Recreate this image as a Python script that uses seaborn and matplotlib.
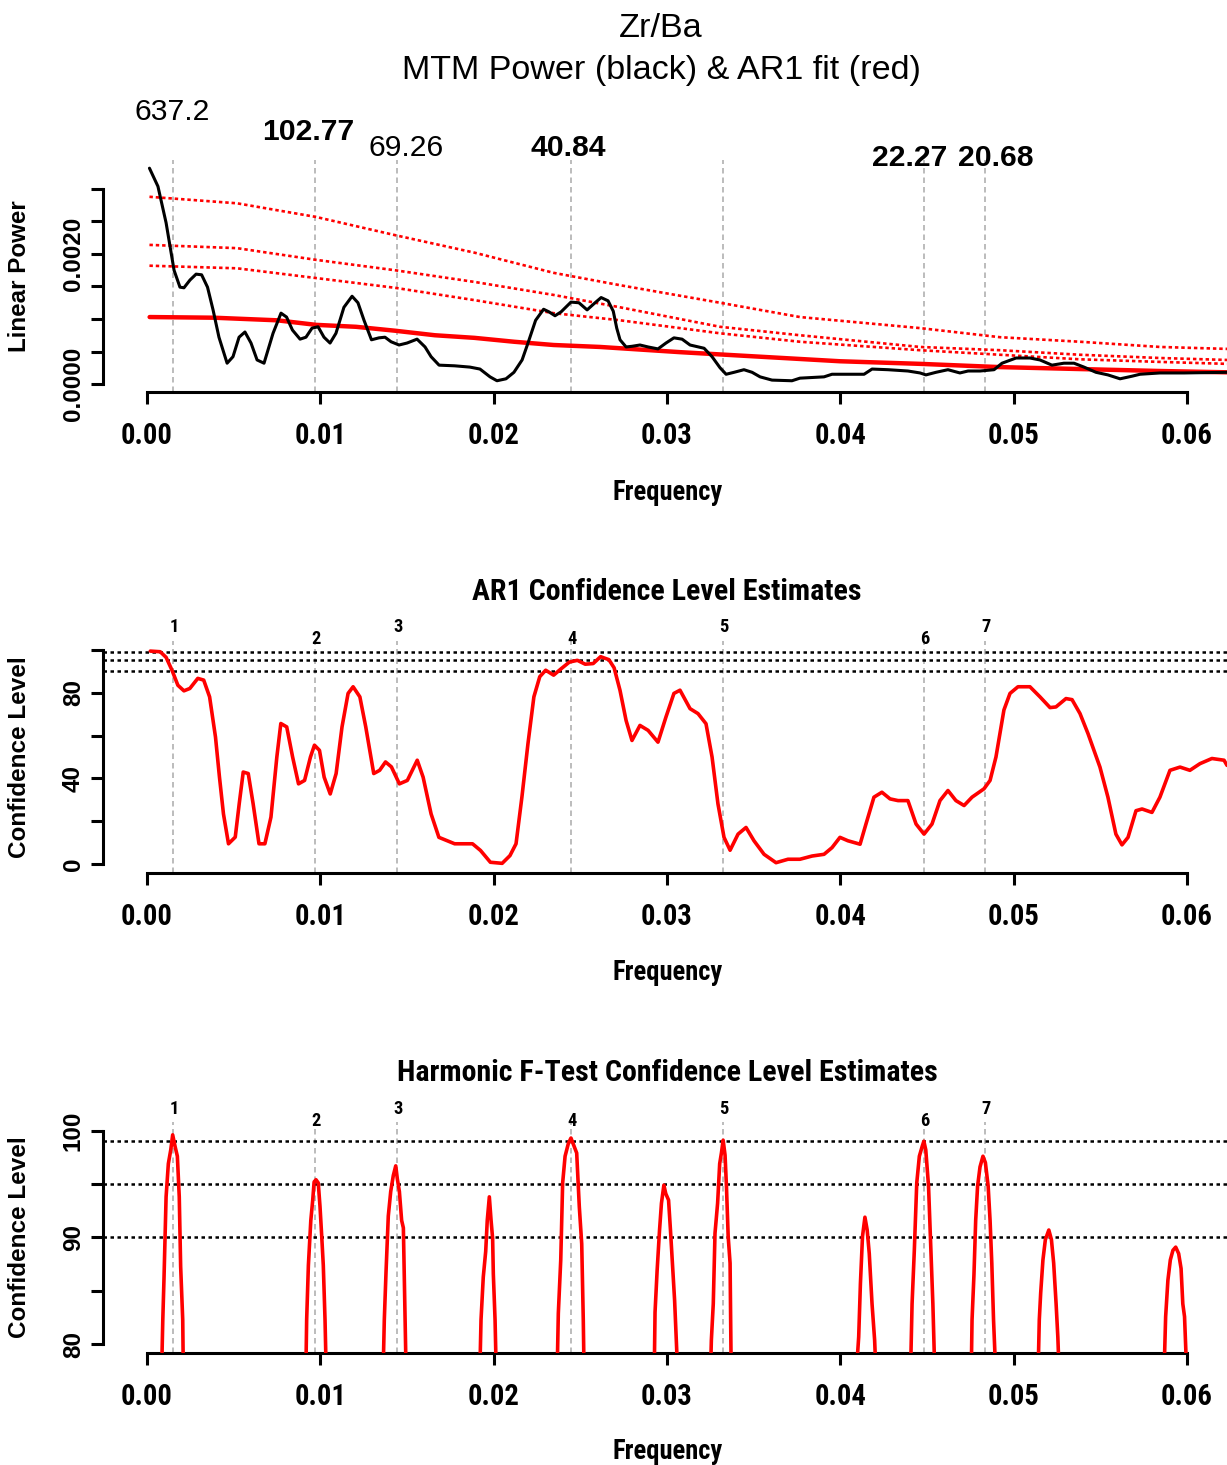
import numpy as np
import pandas as pd
import seaborn as sns
import matplotlib
matplotlib.use("Agg")
import matplotlib.pyplot as plt
from matplotlib import font_manager as fm
from matplotlib.font_manager import FontProperties

# ---------------------------------------------------------------- data
# MTM power spectrum (black)
mtm_freq = [0.00014, 0.00063, 0.00110, 0.00156, 0.00190, 0.00213, 0.00248, 0.00283,
            0.00315, 0.00349, 0.00381, 0.00415, 0.00462, 0.00496, 0.00531, 0.00565,
            0.00600, 0.00635, 0.00675, 0.00727, 0.00773, 0.00805, 0.00839, 0.00883,
            0.00917, 0.00952, 0.00987, 0.01021, 0.01056, 0.01090, 0.01136, 0.01183,
            0.01217, 0.01252, 0.01295, 0.01338, 0.01373, 0.01408, 0.01454, 0.01500,
            0.01558, 0.01604, 0.01639, 0.01685, 0.01774, 0.01863, 0.01921, 0.01979,
            0.02019, 0.02071, 0.02117, 0.02164, 0.02198, 0.02242, 0.02288, 0.02319,
            0.02354, 0.02389, 0.02446, 0.02492, 0.02539, 0.02585, 0.02620, 0.02660,
            0.02690, 0.02710, 0.02729, 0.02764, 0.02798, 0.02844, 0.02891, 0.02948,
            0.02994, 0.03040, 0.03087, 0.03133, 0.03214, 0.03260, 0.03306, 0.03341,
            0.03387, 0.03444, 0.03491, 0.03537, 0.03606, 0.03721, 0.03767, 0.03906,
            0.03952, 0.04137, 0.04183, 0.04275, 0.04390, 0.04460, 0.04494, 0.04552,
            0.04621, 0.04690, 0.04737, 0.04806, 0.04887, 0.04933, 0.05014, 0.05094,
            0.05152, 0.05221, 0.05290, 0.05348, 0.05406, 0.05475, 0.05544, 0.05614,
            0.05683, 0.05729, 0.05844, 0.05983, 0.06231]
mtm_power = [0.00332, 0.00304, 0.00248, 0.00175, 0.00149, 0.00148, 0.00160, 0.00169,
             0.00168, 0.00149, 0.00114, 0.00072, 0.00032, 0.00042, 0.00072, 0.00080,
             0.00063, 0.00037, 0.00032, 0.00078, 0.00109, 0.00103, 0.00083, 0.00069,
             0.00072, 0.00086, 0.00088, 0.00072, 0.00063, 0.00078, 0.00118, 0.00135,
             0.00125, 0.00098, 0.00068, 0.00071, 0.00072, 0.00065, 0.00060, 0.00063,
             0.00069, 0.00057, 0.00042, 0.00029, 0.00028, 0.00026, 0.00023, 0.00011,
             0.00005, 0.00008, 0.00018, 0.00037, 0.00063, 0.00098, 0.00115, 0.00111,
             0.00105, 0.00111, 0.00126, 0.00125, 0.00114, 0.00125, 0.00133, 0.00128,
             0.00112, 0.00086, 0.00068, 0.00057, 0.00058, 0.00060, 0.00057, 0.00054,
             0.00063, 0.00071, 0.00069, 0.00060, 0.00055, 0.00042, 0.00025, 0.00015,
             0.00018, 0.00022, 0.00018, 0.00011, 0.00006, 0.00005, 0.00009, 0.00011,
             0.00015, 0.00015, 0.00023, 0.00022, 0.00020, 0.00017, 0.00014, 0.00018,
             0.00022, 0.00017, 0.00020, 0.00020, 0.00022, 0.00032, 0.00040, 0.00040,
             0.00037, 0.00029, 0.00032, 0.00032, 0.00026, 0.00018, 0.00014, 0.00008,
             0.00012, 0.00015, 0.00017, 0.00017, 0.00018]

# AR1 fit (red, solid)
ar1_freq = [0.00015, 0.00384, 0.00750, 0.00975, 0.01206, 0.01430, 0.01661, 0.01889,
            0.02118, 0.02346, 0.02614, 0.03075, 0.03537, 0.03998, 0.04460, 0.04921,
            0.05383, 0.05844, 0.06231]
ar1_power = [0.00103, 0.00102, 0.00098, 0.00091, 0.00088, 0.00082, 0.00075, 0.00071,
             0.00065, 0.00060, 0.00057, 0.00049, 0.00042, 0.00035, 0.00031, 0.00026,
             0.00023, 0.00020, 0.00018]

# AR1 confidence levels (red, dotted)
conf_freq = [0.00014, 0.00519, 0.00975, 0.01431, 0.01890, 0.02346, 0.02729, 0.03306,
             0.03767, 0.04460, 0.04921, 0.05383, 0.05844, 0.06231]
conf99_power = [0.00288, 0.00278, 0.00257, 0.00229, 0.00202, 0.00171, 0.00152, 0.00125,
                0.00103, 0.00086, 0.00072, 0.00065, 0.00057, 0.00054]
conf95_power = [0.00214, 0.00209, 0.00191, 0.00175, 0.00157, 0.00137, 0.00118, 0.00088,
                0.00075, 0.00057, 0.00052, 0.00045, 0.00040, 0.00037]
conf90_power = [0.00182, 0.00178, 0.00163, 0.00148, 0.00129, 0.00109, 0.00098, 0.00078,
                0.00065, 0.00052, 0.00045, 0.00038, 0.00034, 0.00031]

# identified peaks
peak_freq = [0.00150, 0.00969, 0.01444, 0.02446, 0.03322, 0.04484, 0.04836]
period_labels = ["637.2", "102.77", "69.26", "40.84", "", "22.27", "20.68"]
period_bold = [False, True, False, True, False, True, True]
peak_numbers = ["1", "2", "3", "4", "5", "6", "7"]

# AR1 confidence level estimates (%)
ar1cl_freq = [0.00019, 0.00076, 0.00110, 0.00144, 0.00178, 0.00213, 0.00247, 0.00293,
              0.00327, 0.00361, 0.00395, 0.00418, 0.00441, 0.00470, 0.00509, 0.00532,
              0.00555, 0.00584, 0.00612, 0.00646, 0.00680, 0.00715, 0.00749, 0.00772,
              0.00806, 0.00840, 0.00874, 0.00909, 0.00943, 0.00966, 0.00995, 0.01022,
              0.01057, 0.01091, 0.01125, 0.01160, 0.01189, 0.01228, 0.01262, 0.01308,
              0.01342, 0.01376, 0.01410, 0.01456, 0.01502, 0.01559, 0.01593, 0.01639,
              0.01684, 0.01775, 0.01878, 0.01924, 0.01981, 0.02049, 0.02094, 0.02129,
              0.02163, 0.02198, 0.02232, 0.02266, 0.02300, 0.02346, 0.02391, 0.02437,
              0.02483, 0.02528, 0.02574, 0.02617, 0.02665, 0.02695, 0.02729, 0.02764,
              0.02798, 0.02844, 0.02891, 0.02948, 0.02994, 0.03040, 0.03075, 0.03133,
              0.03179, 0.03225, 0.03260, 0.03294, 0.03329, 0.03364, 0.03410, 0.03456,
              0.03502, 0.03560, 0.03629, 0.03698, 0.03767, 0.03837, 0.03906, 0.03952,
              0.03998, 0.04044, 0.04114, 0.04148, 0.04194, 0.04240, 0.04287, 0.04333,
              0.04390, 0.04437, 0.04483, 0.04529, 0.04575, 0.04621, 0.04667, 0.04714,
              0.04760, 0.04829, 0.04864, 0.04898, 0.04944, 0.04979, 0.05025, 0.05094,
              0.05152, 0.05210, 0.05244, 0.05302, 0.05337, 0.05383, 0.05429, 0.05498,
              0.05544, 0.05590, 0.05625, 0.05660, 0.05706, 0.05741, 0.05798, 0.05844,
              0.05902, 0.05960, 0.06017, 0.06075, 0.06144, 0.06214, 0.06231]
ar1cl_level = [99.3, 99.0, 96.4, 90.4, 83.4, 80.8, 81.9, 86.6,
               85.8, 78.0, 59.3, 40.6, 23.5, 9.6, 12.7, 28.3,
               43.0, 42.3, 28.3, 9.6, 9.6, 22.0, 50.0, 65.6,
               64.0, 50.0, 37.5, 39.1, 50.0, 55.5, 53.1, 40.6,
               32.8, 42.3, 64.0, 79.6, 82.7, 78.0, 64.0, 42.3,
               43.8, 47.7, 45.4, 37.5, 39.1, 48.5, 40.6, 23.5,
               12.6, 9.6, 9.6, 6.5, 1.0, 0.5, 4.1, 9.6,
               31.4, 56.3, 78.0, 87.4, 90.4, 88.1, 91.2, 94.2,
               95.0, 93.2, 93.5, 96.7, 95.3, 91.5, 81.0, 67.0,
               57.7, 64.7, 62.4, 56.9, 68.6, 79.6, 81.1, 72.5,
               70.2, 65.5, 50.0, 28.2, 12.6, 6.6, 14.1, 17.2,
               11.0, 4.7, 0.8, 2.4, 2.4, 3.9, 4.7, 7.8,
               12.6, 11.0, 9.4, 18.8, 31.3, 33.6, 30.5, 29.7,
               29.7, 18.8, 14.1, 18.8, 29.7, 34.4, 29.7, 27.4,
               31.3, 35.2, 39.1, 50.0, 71.9, 79.6, 82.7, 82.7,
               78.0, 73.0, 73.3, 77.2, 76.7, 70.2, 60.9, 45.3,
               31.3, 14.1, 9.1, 12.6, 25.0, 25.8, 24.2, 31.3,
               43.8, 45.3, 43.8, 46.9, 49.3, 48.5, 46.1]

# Harmonic F-test confidence level estimates (%), only the parts above ~80 are visible
ftest_freq = [
    0.00085, 0.00091, 0.00098, 0.00110, 0.00123, 0.00137, 0.00148, 0.00162, 0.00175, 0.00186, 0.00194, 0.00206, 0.00209,
    0.00917, 0.00921, 0.00931, 0.00945, 0.00956, 0.00964, 0.00975, 0.00988, 0.00998, 0.01008, 0.01017, 0.01027, 0.01033,
    0.01363, 0.01369, 0.01379, 0.01392, 0.01406, 0.01421, 0.01435, 0.01444, 0.01456, 0.01469, 0.01479, 0.01489, 0.01494,
    0.01921, 0.01927, 0.01940, 0.01954, 0.01963, 0.01975, 0.01985, 0.01994, 0.01998, 0.02008, 0.02014,
    0.02367, 0.02373, 0.02387, 0.02398, 0.02412, 0.02431, 0.02446, 0.02460, 0.02479, 0.02494, 0.02508, 0.02517, 0.02521,
    0.02927, 0.02931, 0.02943, 0.02957, 0.02968, 0.02982, 0.02993, 0.03009, 0.03020, 0.03034, 0.03044, 0.03054, 0.03060,
    0.03252, 0.03256, 0.03267, 0.03277, 0.03292, 0.03304, 0.03314, 0.03324, 0.03335, 0.03343, 0.03353, 0.03364, 0.03370,
    0.04095, 0.04106, 0.04116, 0.04128, 0.04142, 0.04155, 0.04167, 0.04183, 0.04198, 0.04204,
    0.04406, 0.04414, 0.04427, 0.04441, 0.04456, 0.04472, 0.04482, 0.04493, 0.04509, 0.04524, 0.04534, 0.04544,
    0.04756, 0.04760, 0.04771, 0.04781, 0.04792, 0.04806, 0.04823, 0.04837, 0.04853, 0.04864, 0.04874, 0.04884, 0.04895,
    0.05142, 0.05148, 0.05156, 0.05169, 0.05183, 0.05203, 0.05218, 0.05231, 0.05245, 0.05255, 0.05261,
    0.05869, 0.05877, 0.05890, 0.05904, 0.05919, 0.05935, 0.05952, 0.05966, 0.05976, 0.05986, 0.05997]
ftest_level = [
    78.0, 82.3, 86.2, 93.8, 96.9, 98.2, 99.6, 98.5, 97.6, 93.8, 87.3, 82.3, 78.0,
    78.0, 82.3, 87.4, 91.6, 93.5, 95.2, 95.4, 95.1, 92.9, 90.1, 87.4, 82.3, 78.0,
    78.0, 82.3, 86.8, 92.0, 94.3, 95.8, 96.7, 95.5, 94.3, 91.6, 90.9, 82.3, 78.0,
    78.0, 82.3, 86.3, 88.7, 91.6, 93.8, 91.6, 89.9, 86.6, 82.3, 78.0,
    78.0, 82.9, 87.9, 95.1, 97.6, 98.8, 99.3, 98.7, 97.9, 92.9, 89.4, 82.3, 78.0,
    78.0, 83.0, 86.9, 90.7, 93.2, 94.9, 94.1, 93.5, 90.7, 86.9, 84.1, 80.4, 78.0,
    78.0, 80.4, 83.8, 90.4, 93.2, 96.9, 97.9, 99.1, 97.7, 94.8, 90.1, 87.6, 78.0,
    78.0, 80.7, 85.7, 90.1, 91.9, 90.7, 88.5, 83.8, 80.4, 78.0,
    78.0, 83.8, 88.8, 95.1, 97.6, 98.5, 99.0, 98.2, 94.8, 88.2, 83.8, 78.0,
    78.0, 82.3, 86.5, 91.6, 94.8, 96.6, 97.6, 97.0, 94.8, 91.6, 87.6, 82.3, 78.0,
    78.0, 82.3, 84.8, 87.9, 89.8, 90.7, 89.8, 87.6, 83.8, 80.7, 78.0,
    78.0, 82.6, 86.0, 87.9, 88.8, 89.1, 88.5, 87.1, 83.8, 82.6, 78.0]

conf_levels = [99, 95, 90]

x_ticks = [0.00, 0.01, 0.02, 0.03, 0.04, 0.05, 0.06]
x_tick_labels = ["0.00", "0.01", "0.02", "0.03", "0.04", "0.05", "0.06"]
pow_ticks = [0.0, 0.0005, 0.0010, 0.0015, 0.0020, 0.0025, 0.0030]
pow_tick_labels = ["0.0000", "", "", "", "0.0020", "", ""]
ar1cl_ticks = [0, 20, 40, 60, 80, 100]
ar1cl_tick_labels = ["0", "", "40", "", "80", ""]
ft_ticks = [80, 85, 90, 95, 100]
ft_tick_labels = ["80", "", "90", "", "100"]

# ---------------------------------------------------------------- style
sns.set_style("ticks")
SANS = "Liberation Sans"
plt.rcParams["font.family"] = [SANS, "DejaVu Sans"]
for k in ["text.color", "axes.labelcolor", "xtick.color", "ytick.color", "axes.edgecolor"]:
    plt.rcParams[k] = "black"


def pick_narrow_bold():
    prefs = ["liberation sans narrow", "arial narrow", "roboto condensed",
             "open sans condensed", "dejavu sans condensed", "noto sans condensed"]
    found = {}
    for f in fm.fontManager.ttflist:
        key = (f.name + " " + f.fname.split("/")[-1]).lower()
        w = f.weight if isinstance(f.weight, int) else (700 if "bold" in str(f.weight) else 400)
        is_bold = w >= 600 or "bold" in f.fname.lower()
        is_narrow = ("narrow" in key or "condensed" in key or
                     str(f.stretch) in ("condensed", "semi-condensed"))
        if is_bold and is_narrow and "italic" not in f.fname.lower() and "oblique" not in f.fname.lower():
            for i, p in enumerate(prefs):
                if p.split()[0] in key:
                    found.setdefault(i, f.fname)
    if found:
        return FontProperties(fname=found[min(found)])
    return FontProperties(family=SANS, weight="bold")


NARROW_FP = pick_narrow_bold()

W, H = 1227, 1465
DPI = 100
fig = plt.figure(figsize=(W / DPI, H / DPI), dpi=DPI)
fig.patch.set_facecolor("white")
renderer = fig.canvas.get_renderer()

# size factor so the condensed title text matches the reference width (389 px at nominal 22 pt)
_probe = fig.text(0, 0, "AR1 Confidence Level Estimates", fontproperties=NARROW_FP)
_probe.set_fontsize(22)
NS = 389.0 / _probe.get_window_extent(renderer).width
_probe.remove()


def nfp(size):
    fp = NARROW_FP.copy()
    fp.set_size(size * NS)
    return fp


def rect(left, top, right, bottom):
    return [left / W, 1 - bottom / H, (right - left) / W, (bottom - top) / H]


XLIM = (-0.00254, 0.06231)
RED = "#ff0000"
GREY = "#b0b0b0"
AXLW = 2.2


def style_axis(ax, yticks, ylabels, ybounds):
    for s in ["top", "right"]:
        ax.spines[s].set_visible(False)
    for s in ["left", "bottom"]:
        ax.spines[s].set_linewidth(AXLW)
        ax.spines[s].set_color("black")
    ax.spines["bottom"].set_bounds(x_ticks[0], x_ticks[-1])
    ax.spines["left"].set_bounds(*ybounds)
    ax.set_xlim(*XLIM)
    ax.set_xticks(x_ticks)
    ax.set_xticklabels(x_tick_labels, fontproperties=nfp(21))
    ax.set_yticks(yticks)
    ax.set_yticklabels(ylabels, fontfamily=SANS, fontsize=17.5, fontweight="bold")
    ax.tick_params(axis="x", which="major", bottom=True, top=False, direction="out",
                   length=8.6, width=AXLW, pad=13.0, colors="black")
    ax.tick_params(axis="y", which="major", left=True, right=False, direction="out",
                   length=8.6, width=AXLW, pad=4.5, colors="black", labelrotation=90)
    for lbl in ax.get_yticklabels():
        lbl.set_va("center")
    ax.set_xlabel("")
    ax.set_ylabel("")
    ax.set_facecolor("white")
    ax.grid(False)


def fig_text(px, py, s, **kw):
    fig.text(px / W, 1 - py / H, s, **kw)


# ---------------------------------------------------------------- panel 1
ax1 = fig.add_axes(rect(103, 160, 1227, 392))
ax1.set_ylim(-0.000123, 0.003446)
for f in peak_freq:
    ax1.axvline(f, color=GREY, lw=1.2, ls=(0, (3.3, 2.4)), zorder=1)
for cp in [conf99_power, conf95_power, conf90_power]:
    sns.lineplot(x=conf_freq, y=cp, ax=ax1, color=RED, linewidth=1.9,
                 linestyle=(0, (1.3, 1.1)), estimator=None, sort=False, zorder=2)
sns.lineplot(x=ar1_freq, y=ar1_power, ax=ax1, color=RED, linewidth=3.2,
             estimator=None, sort=False, zorder=3)
sns.lineplot(x=mtm_freq, y=mtm_power, ax=ax1, color="black", linewidth=2.2,
             estimator=None, sort=False, zorder=4)
style_axis(ax1, pow_ticks, pow_tick_labels, (pow_ticks[0], pow_ticks[-1]))

label_dx = [-1, -7, 9, -3, 0, -15, 11]
label_dy = [40, 20, 4, 4, 0, -6, -6]
for f, lab, bold, dx, dy in zip(peak_freq, period_labels, period_bold, label_dx, label_dy):
    if not lab:
        continue
    ax1.annotate(lab, xy=(f, 1.0), xycoords=("data", "axes fraction"),
                 xytext=(dx, dy), textcoords="offset pixels", ha="center", va="baseline",
                 fontfamily=SANS, fontsize=21.7, fontweight="bold" if bold else "normal",
                 annotation_clip=False)

fig_text(661, 37, "Zr/Ba", ha="center", va="baseline", fontfamily=SANS, fontsize=24.6)
fig_text(661, 79, "MTM Power (black) & AR1 fit (red)", ha="center", va="baseline",
         fontfamily=SANS, fontsize=24.6)
fig_text(20, 276, "Linear Power", ha="center", va="center", rotation=90,
         fontfamily=SANS, fontsize=17.4, fontweight="bold")
fig_text(668, 500, "Frequency", ha="center", va="baseline", fontproperties=nfp(19.5))

# ---------------------------------------------------------------- panel 2
ax2 = fig.add_axes(rect(103, 641, 1227, 873))
ax2.set_ylim(-4, 104)
for f in peak_freq:
    ax2.axvline(f, color=GREY, lw=1.2, ls=(0, (3.3, 2.4)), zorder=1)
for c in conf_levels:
    ax2.axhline(c, color="black", lw=1.8, ls=(0, (1.4, 1.4)), zorder=2)
sns.lineplot(x=ar1cl_freq, y=ar1cl_level, ax=ax2, color=RED, linewidth=2.6,
             estimator=None, sort=False, zorder=3)
style_axis(ax2, ar1cl_ticks, ar1cl_tick_labels, (0, 100))

num_dy = [8.5, -3.5, 8.5, -3.5, 8.5, -3.5, 8.5]


def add_numbers(ax):
    for f, n, dy in zip(peak_freq, peak_numbers, num_dy):
        ax.annotate(n, xy=(f, 1.0), xycoords=("data", "axes fraction"),
                    xytext=(1, dy), textcoords="offset pixels", ha="center", va="baseline",
                    fontproperties=nfp(13.5), annotation_clip=False)


add_numbers(ax2)
fig_text(667, 600, "AR1 Confidence Level Estimates", ha="center", va="baseline",
         fontproperties=nfp(22))
fig_text(20, 757, "Confidence Level", ha="center", va="center", rotation=90,
         fontfamily=SANS, fontsize=17.5, fontweight="bold")
fig_text(668, 980, "Frequency", ha="center", va="baseline", fontproperties=nfp(19.5))

# ---------------------------------------------------------------- panel 3
ax3 = fig.add_axes(rect(103, 1122, 1227, 1353))
ax3.set_ylim(79.2, 100.8)
for f in peak_freq:
    ax3.axvline(f, color=GREY, lw=1.2, ls=(0, (3.3, 2.4)), zorder=1)
for c in conf_levels:
    ax3.axhline(c, color="black", lw=1.8, ls=(0, (1.4, 1.4)), zorder=2)
sns.lineplot(x=ftest_freq, y=ftest_level, ax=ax3, color=RED, linewidth=2.6,
             estimator=None, sort=False, zorder=3)
style_axis(ax3, ft_ticks, ft_tick_labels, (80, 100))
add_numbers(ax3)
fig_text(667, 1081, "Harmonic F-Test Confidence Level Estimates", ha="center", va="baseline",
         fontproperties=nfp(22))
fig_text(20, 1237, "Confidence Level", ha="center", va="center", rotation=90,
         fontfamily=SANS, fontsize=17.5, fontweight="bold")
fig_text(668, 1459, "Frequency", ha="center", va="baseline", fontproperties=nfp(19.5))

fig.savefig("out.png", dpi=DPI, facecolor="white")
